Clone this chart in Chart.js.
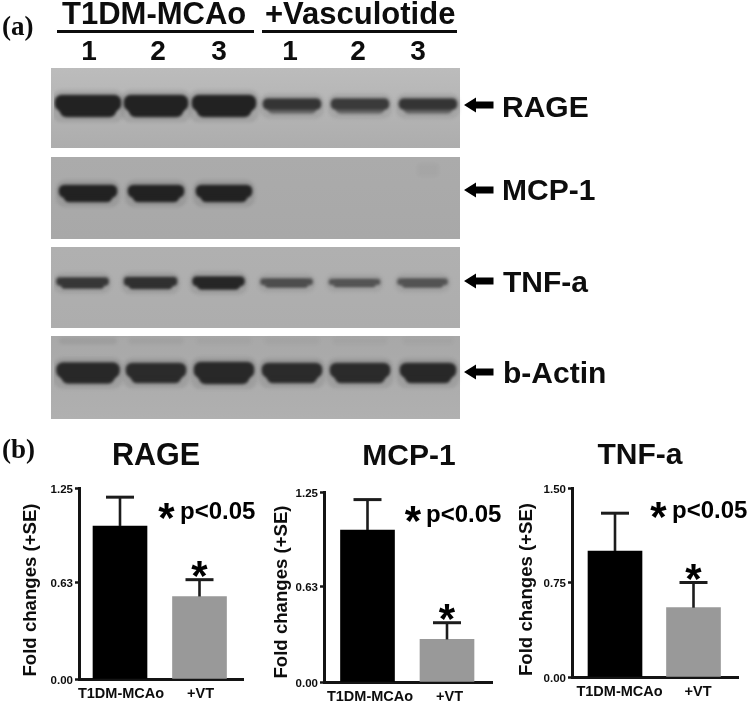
<!DOCTYPE html>
<html><head><meta charset="utf-8">
<script src="https://cdn.jsdelivr.net/npm/chart.js@4"></script>
<style>
html,body{margin:0;padding:0;background:#fff;width:750px;height:713px;overflow:hidden}
canvas{position:absolute;display:block}
</style></head><body>
<canvas id="blot" width="750" height="430" style="left:0;top:0"></canvas>
<canvas id="c1" width="312" height="283" style="left:0;top:430px"></canvas>
<canvas id="c2" width="288" height="283" style="left:265px;top:430px"></canvas>
<canvas id="c3" width="250" height="283" style="left:515px;top:430px"></canvas>
<script>
// ---------- data ----------
const categories = ['T1DM-MCAo', '+VT'];
const rageValues = [1.0, 0.54];
const rageErrTop = [1.19, 0.65];
const rageTicks = [0, 0.63, 1.25];
const mcpValues = [1.0, 0.28];
const mcpErrTop = [1.2, 0.39];
const mcpTicks = [0, 0.63, 1.25];
const tnfValues = [1.0, 0.55];
const tnfErrTop = [1.3, 0.75];
const tnfTicks = [0, 0.75, 1.5];
const lanes = [1, 2, 3, 4, 5, 6];
const blotRows = ['RAGE', 'MCP-1', 'TNF-a', 'b-Actin'];
const rageThickness = [22, 22, 22, 15, 15, 15];
const rageDensity = [0.8, 0.8, 0.8, 0.7, 0.66, 0.7];
const rageLowDensity = [0.8, 0.8, 0.8, 0.42, 0.42, 0.42];
const mcpThickness = [17, 17, 17, 0, 0, 0];
const mcpDensity = [0.8, 0.8, 0.8, 0, 0, 0];
const tnfThickness = [11, 12, 13, 9, 8, 9];
const tnfDensity = [0.68, 0.72, 0.78, 0.55, 0.52, 0.52];
const actinThickness = [21, 20, 22, 20, 20, 20];
const actinDensity = [0.77, 0.75, 0.77, 0.75, 0.75, 0.77];
const actinGhost = [0.08, 0.05, 0.04, 0.04, 0.03, 0.03];
const mcpGhost = [0, 0, 0, 0, 0, 0.03];

// ---------- style / layout ----------
const SANS = '"Liberation Sans", Arial, sans-serif';
const SERIF = '"Liberation Serif", serif';
const INK = '#0d0d0d';
const panels = [
  {top: 68, bottom: 148, c0: '#bcbcbc', c1: '#adadad'},
  {top: 157, bottom: 239, c0: '#ababab', c1: '#a8a8a8'},
  {top: 247, bottom: 328, c0: '#b0b0b0', c1: '#adadad'},
  {top: 336, bottom: 419, c0: '#a8a8a8', c1: '#b0b0b0'}
];
const rowStyle = {
  'RAGE':    {centre: 106, scale: 'xMain', widths: [66, 64, 64, 58, 58, 58], thick: rageThickness, dens: rageDensity, low: rageLowDensity},
  'MCP-1':   {centre: 193.5, scale: 'xMain', widths: [58, 56, 56, 56, 56, 56], thick: mcpThickness, dens: mcpDensity, low: mcpDensity, ghost: mcpGhost, ghostAt: 170, ghostT: 12},
  'TNF-a':   {centre: 283, scale: 'xTnf', widths: [52, 53, 52, 52, 51, 50], thick: tnfThickness, dens: tnfDensity, low: tnfDensity},
  'b-Actin': {centre: 373, scale: 'xMain', widths: [63, 60, 60, 60, 60, 56], thick: actinThickness, dens: actinDensity, low: actinDensity, ghost: actinGhost, ghostAt: 341, ghostT: 6}
};
function gray(d, a) { const v = Math.round(172 * (1 - d)); return a === undefined ? `rgb(${v},${v},${v})` : `rgba(${v},${v},${v},${a})`; }

function bandDatasets() {
  const out = [];
  blotRows.forEach(name => {
    const r = rowStyle[name];
    lanes.forEach((lane, i) => {
      const t = r.thick[i], c = r.centre, w = r.widths[i];
      const base = {xAxisID: r.scale, yAxisID: 'y', grouped: false, borderSkipped: false};
      if (r.ghost && r.ghost[i]) {
        out.push({...base, label: name + ' ghost ' + lane, order: 4, barThickness: name === 'MCP-1' ? 20 : w - 6,
          data: [{x: lane, y: [r.ghostAt - r.ghostT / 2, r.ghostAt + r.ghostT / 2]}],
          backgroundColor: `rgba(40,40,40,${r.ghost[i]})`, borderRadius: 3});
      }
      if (!t) return;
      const top = c - t / 2;
      out.push({...base, label: name + ' halo ' + lane, order: 3, barThickness: w + 6,
        data: [{x: lane, y: [top - 5, c + t / 2 + 5]}], backgroundColor: gray(r.dens[i], 0.1), borderRadius: 10});
      out.push({...base, label: name + ' low ' + lane, order: 2, barThickness: w - 10,
        data: [{x: lane, y: [top + t * 0.25, c + t / 2]}], backgroundColor: gray(r.low[i]), borderRadius: Math.min(7, t / 3)});
      out.push({...base, label: name + ' band ' + lane, order: 1, barThickness: w,
        data: [{x: lane, y: [top, top + t * 0.72]}], backgroundColor: gray(r.dens[i]), borderRadius: Math.min(7, t / 3)});
    });
  });
  return out;
}

function arrow(ctx, y) {
  ctx.fillStyle = '#000';
  ctx.beginPath();
  ctx.moveTo(464, y);
  ctx.lineTo(476, y - 7.5);
  ctx.lineTo(476, y - 3.5);
  ctx.lineTo(493.5, y - 3.5);
  ctx.lineTo(493.5, y + 3.5);
  ctx.lineTo(476, y + 3.5);
  ctx.lineTo(476, y + 7.5);
  ctx.closePath();
  ctx.fill();
}

const blotPlugin = {
  id: 'blotPlugin',
  beforeDatasetsDraw(chart) {
    const ctx = chart.ctx, y = chart.scales.y;
    panels.forEach(p => {
      const t = y.getPixelForValue(p.top), b = y.getPixelForValue(p.bottom);
      const g = ctx.createLinearGradient(0, t, 0, b);
      g.addColorStop(0, p.c0); g.addColorStop(1, p.c1);
      ctx.fillStyle = g;
      ctx.fillRect(51, t, 409, b - t);
    });
    ctx.save();
    ctx.filter = 'blur(1.8px)';
  },
  afterDatasetsDraw(chart) {
    const ctx = chart.ctx;
    ctx.restore();
    ctx.save();
    ctx.fillStyle = INK;
    ctx.textBaseline = 'alphabetic';
    ctx.textAlign = 'left';
    ctx.font = 'bold 27px ' + SERIF;
    ctx.fillText('(a)', 2, 35);
    ctx.font = 'bold 31px ' + SANS;
    ctx.fillText('T1DM-MCAo', 62, 23.5);
    ctx.fillText('+Vasculotide', 265, 23.5);
    ctx.fillRect(57, 30, 197, 3);
    ctx.fillRect(262, 30, 195, 3);
    ctx.textAlign = 'center';
    ctx.font = 'bold 28px ' + SANS;
    [['1', 89], ['2', 158], ['3', 219], ['1', 290], ['2', 358], ['3', 418]].forEach(([s, x]) => ctx.fillText(s, x, 60));
    ctx.textAlign = 'left';
    ctx.font = 'bold 30px ' + SANS;
    [['RAGE', 502, 117, 105], ['MCP-1', 502, 200, 190], ['TNF-a', 503, 292, 281], ['b-Actin', 503, 383, 372]].forEach(([s, x, by, ay]) => {
      ctx.fillStyle = INK;
      ctx.fillText(s, x, by);
      arrow(ctx, ay);
    });
    ctx.restore();
  }
};

new Chart(document.getElementById('blot'), {
  type: 'bar',
  data: {labels: lanes, datasets: bandDatasets()},
  options: {
    responsive: false, animation: false, devicePixelRatio: 1,
    layout: {padding: {left: 54, right: 288, top: 0, bottom: 0}},
    plugins: {legend: {display: false}, title: {display: false}, tooltip: {enabled: false}},
    scales: {
      xMain: {type: 'linear', offset: false, display: false, min: 0.5, max: 6.5},
      xTnf: {type: 'linear', offset: false, display: false, min: 0.58, max: 6.58},
      y: {type: 'linear', display: false, min: 0, max: 430, reverse: true}
    }
  },
  plugins: [blotPlugin]
});

// ---------- bar panels ----------
const errorAndNotes = {
  id: 'errorAndNotes',
  afterDatasetsDraw(chart, args, o) {
    const ctx = chart.ctx, xs = chart.scales.x, ys = chart.scales.y;
    ctx.save();
    ctx.strokeStyle = '#1c1c1c';
    o.err.forEach((e, i) => {
      const x = xs.getPixelForValue(i + 1), y0 = ys.getPixelForValue(o.values[i]), y1 = ys.getPixelForValue(e);
      ctx.lineWidth = 2.6;
      ctx.beginPath(); ctx.moveTo(x, y0); ctx.lineTo(x, y1); ctx.stroke();
      ctx.lineWidth = 3;
      ctx.beginPath(); ctx.moveTo(x - 14, y1); ctx.lineTo(x + 14, y1); ctx.stroke();
    });
    ctx.fillStyle = '#000';
    ctx.textBaseline = 'alphabetic';
    ctx.textAlign = 'center';
    ctx.font = 'bold 42px ' + SANS;
    const cx = xs.getPixelForValue(2), cy = ys.getPixelForValue(o.err[1]);
    ctx.fillText('*', cx, cy + 10);
    ctx.fillText('*', o.starX - o.left, o.starBase - 430);
    ctx.textAlign = 'left';
    ctx.font = 'bold 24px ' + SANS;
    ctx.fillText('p<0.05', o.pX - o.left, o.pBase - 430);
    if (o.panelTag) {
      ctx.font = 'bold 27px ' + SERIF;
      ctx.fillStyle = INK;
      ctx.fillText(o.panelTag, 2, 28);
    }
    // y-axis caption sits off-centre of the axis in the source figure
    ctx.save();
    ctx.translate(o.yTitleX - o.left, o.yTitleMid - 430);
    ctx.rotate(-Math.PI / 2);
    ctx.textAlign = 'center';
    ctx.textBaseline = 'middle';
    ctx.fillStyle = INK;
    ctx.font = 'bold 18.6px ' + SANS;
    ctx.fillText(o.yLabel, 0, 0);
    ctx.restore();
    ctx.restore();
  }
};

function barPanel(id, g) {
  const unit = g.c2 - g.c1;
  new Chart(document.getElementById(id), {
    type: 'bar',
    data: {
      labels: categories,
      datasets: [{
        data: g.values.map((v, i) => ({x: i + 1, y: v})),
        backgroundColor: ['#000000', '#999999'],
        barThickness: 54, borderWidth: 0
      }]
    },
    options: {
      responsive: false, animation: false, devicePixelRatio: 1,
      layout: {padding: 0},
      plugins: {
        legend: {display: false}, tooltip: {enabled: false},
        title: {display: true, text: g.title, color: INK, align: 'center', fullSize: true,
          font: {family: SANS, weight: 'bold', size: g.titleSize, lineHeight: 1.2},
          padding: {top: g.titleTop, bottom: g.areaTop - 430 - g.titleTop - g.titleSize * 1.2}},
        errorAndNotes: {err: g.err, values: g.values, left: g.canvasL, starX: g.starX, starBase: g.starBase,
          pX: g.pX, pBase: g.pBase, panelTag: g.panelTag, yTitleX: g.yTitleX, yTitleMid: g.yTitleMid,
          yLabel: 'Fold changes (+SE)'}
      },
      scales: {
        x: {
          type: 'linear', offset: false,
          min: 1 - (g.c1 - g.left) / unit,
          max: 2 + (g.right - g.c2) / unit,
          afterFit: s => { s.height = 713 - g.areaBottom; },
          afterBuildTicks: s => { s.ticks = [{value: 1}, {value: 2}]; },
          grid: {display: false, drawTicks: false, tickLength: 0},
          border: {display: true, width: 3, color: '#141414'},
          ticks: {callback: v => categories[v - 1], color: INK, autoSkip: false, maxRotation: 0,
            labelOffset: g.labelOffset, padding: 6, font: {family: SANS, weight: 'bold', size: 14.5}}
        },
        y: {
          type: 'linear', min: 0, max: g.ticks[2],
          afterFit: s => { s.width = g.left - g.canvasL; },
          afterBuildTicks: s => { s.ticks = g.ticks.map(v => ({value: v})); },
          grid: {display: true, drawOnChartArea: false, drawTicks: true, tickLength: 4, tickWidth: 2.5, tickColor: '#141414'},
          border: {display: true, width: 3, color: '#141414'},
          ticks: {callback: v => v.toFixed(2), color: INK, padding: 2, labelOffset: 1.5, font: {family: SANS, weight: 'bold', size: 11.5}}
        },
        // empty axis that only reserves the space right of the plot, so the title centres on the whole canvas
        gap: {
          type: 'linear', position: 'right',
          afterFit: s => { s.width = g.canvasW - (g.right - g.canvasL); },
          grid: {display: false, drawTicks: false},
          border: {display: false},
          ticks: {display: false}
        }
      }
    },
    plugins: [errorAndNotes]
  });
}

barPanel('c1', {title: 'RAGE', titleSize: 30.5, values: rageValues, err: rageErrTop, ticks: rageTicks, panelTag: '(b)',
  canvasL: 0, canvasW: 312, left: 79, right: 243, c1: 120, c2: 199.5, areaTop: 488, areaBottom: 679,
  titleTop: 8.5, labelOffset: 1, yTitleX: 31, yTitleMid: 590, starX: 166.5, starBase: 532, pX: 180, pBase: 519});
barPanel('c2', {title: 'MCP-1', titleSize: 30, values: mcpValues, err: mcpErrTop, ticks: mcpTicks,
  canvasL: 265, canvasW: 288, left: 324, right: 492, c1: 367.5, c2: 447, areaTop: 492, areaBottom: 682,
  titleTop: 8.5, labelOffset: 2.5, yTitleX: 282, yTitleMid: 592, starX: 413, starBase: 535, pX: 426, pBase: 522});
barPanel('c3', {title: 'TNF-a', titleSize: 30, values: tnfValues, err: tnfErrTop, ticks: tnfTicks,
  canvasL: 515, canvasW: 250, left: 572, right: 738, c1: 615, c2: 693.5, areaTop: 488, areaBottom: 677,
  titleTop: 7.5, labelOffset: 4.5, yTitleX: 527, yTitleMid: 589.5, starX: 658.5, starBase: 531, pX: 672, pBase: 518});
</script>
</body></html>
